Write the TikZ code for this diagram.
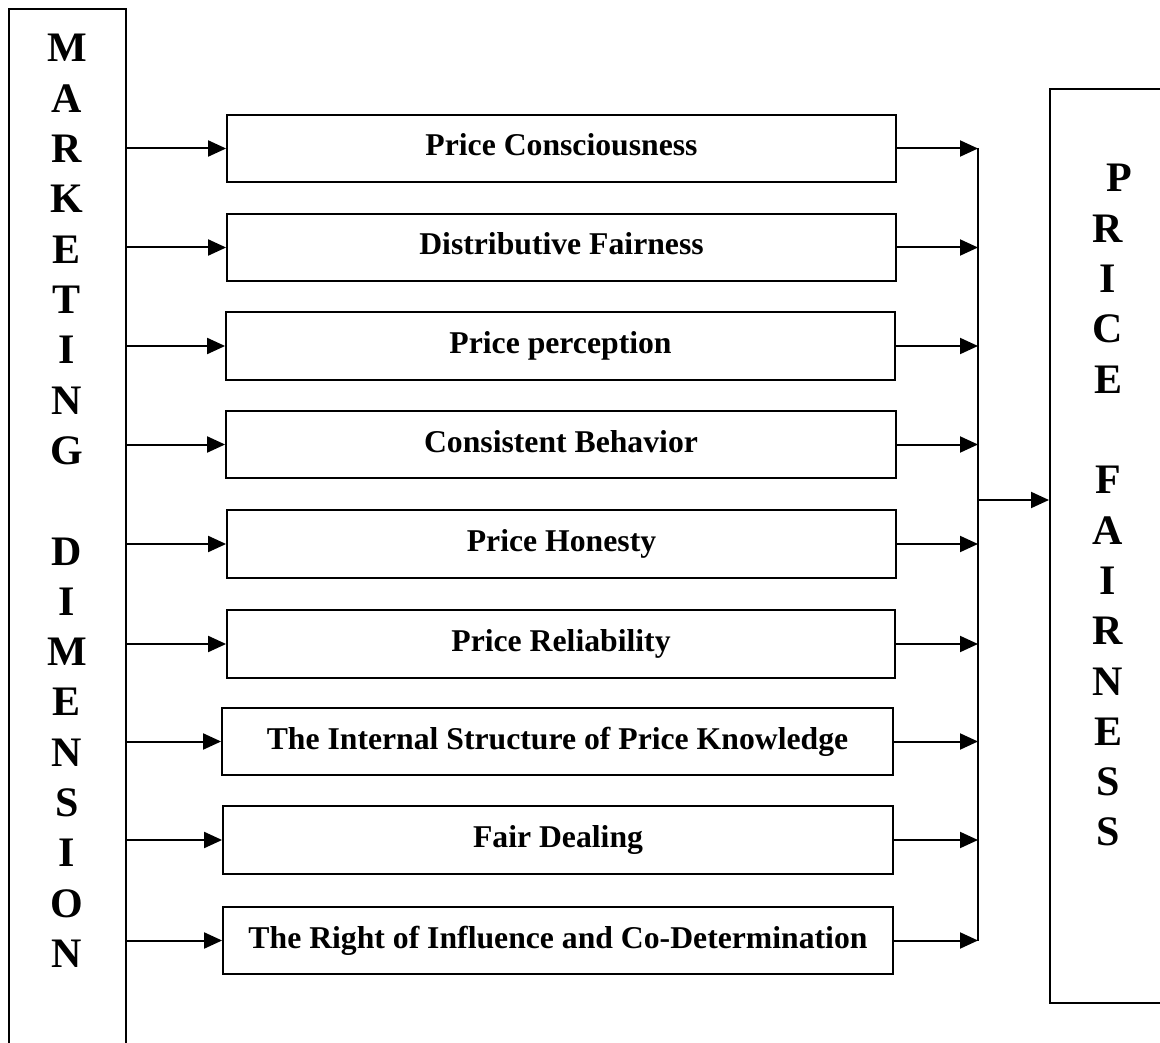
\documentclass[tikz,border=0pt]{standalone}
\usepackage{fontspec}
\setmainfont{Liberation Serif}
\usetikzlibrary{arrows.meta}
\tikzset{
  outer/.style={draw=black, line width=2pt, minimum width=#1, inner sep=0pt},
  midbox/.style={draw=black, line width=1.8pt, inner sep=0pt, minimum height=67pt,
    font=\fontsize{31.7}{36}\selectfont\bfseries, text height=22pt, text depth=7pt},
  sidelet/.style={font=\fontsize{42}{50}\selectfont\bfseries, anchor=base, inner sep=0pt},
  arr/.style={line width=2pt, -{Triangle[length=18pt,width=16pt]}},
  busline/.style={line width=2.2pt}
}
\begin{document}
\begin{tikzpicture}[x=1pt,y=-1pt]
\useasboundingbox (0,0) rectangle (1160,1043);
\fill[white] (0,0) rectangle (1160,1043);

% side boxes
\node[outer=117pt, minimum height=1051pt] (lbox) at (67.5,534.5) {};
\node[outer=125pt, minimum height=914pt] (rbox) at (1112.5,546) {};

% left letters
\foreach \ch [count=\i from 0] in {M,A,R,K,E,T,I,N,G} {
  \node[sidelet] (ml\i) at (67,62+50.3*\i) {\ch};
}
\foreach \ch [count=\i from 10] in {D,I,M,E,N,S,I,O,N} {
  \node[sidelet] (ml\i) at (67,62+50.3*\i) {\ch};
}
% right letters
\node[sidelet] (pr0) at (1119,192) {P};
\foreach \ch [count=\i from 1] in {R,I,C,E} {
  \node[sidelet] (pr\i) at (1108,192+50.3*\i) {\ch};
}
\foreach \ch [count=\i from 6] in {F,A,I,R,N,E,S,S} {
  \node[sidelet] (pr\i) at (1108,192+50.3*\i) {\ch};
}

% middle boxes
\node[midbox, minimum width=669pt] (b1) at (561.5,148.5) {Price Consciousness};
\node[midbox, minimum width=669pt] (b2) at (561.5,247.5) {Distributive Fairness};
\node[midbox, minimum width=669pt, minimum height=68pt] (b3) at (560.5,346) {Price perception};
\node[midbox, minimum width=670pt] (b4) at (561,444.5) {Consistent Behavior};
\node[midbox, minimum width=669pt, minimum height=68pt] (b5) at (561.5,544) {Price Honesty};
\node[midbox, minimum width=668pt, minimum height=68pt] (b6) at (561,644) {Price Reliability};
\node[midbox, minimum width=671pt] (b7) at (557.5,741.5) {The Internal Structure of Price Knowledge};
\node[midbox, minimum width=670pt, minimum height=68pt] (b8) at (558,840) {Fair Dealing};
\node[midbox, minimum width=670pt] (b9) at (558,940.5) {The Right of Influence and Co-Determination};

% bus
\coordinate (bus) at (978,500);
\draw[busline] (b1.east -| bus) -- (b9.east -| bus);

% arrows
\foreach \n in {1,...,9} {
  \draw[arr] (lbox.east |- b\n.west) -- (b\n.west);
  \draw[arr] (b\n.east) -- (b\n.east -| bus);
}
\draw[arr] (bus) -- (bus -| rbox.west);
\end{tikzpicture}
\end{document}
